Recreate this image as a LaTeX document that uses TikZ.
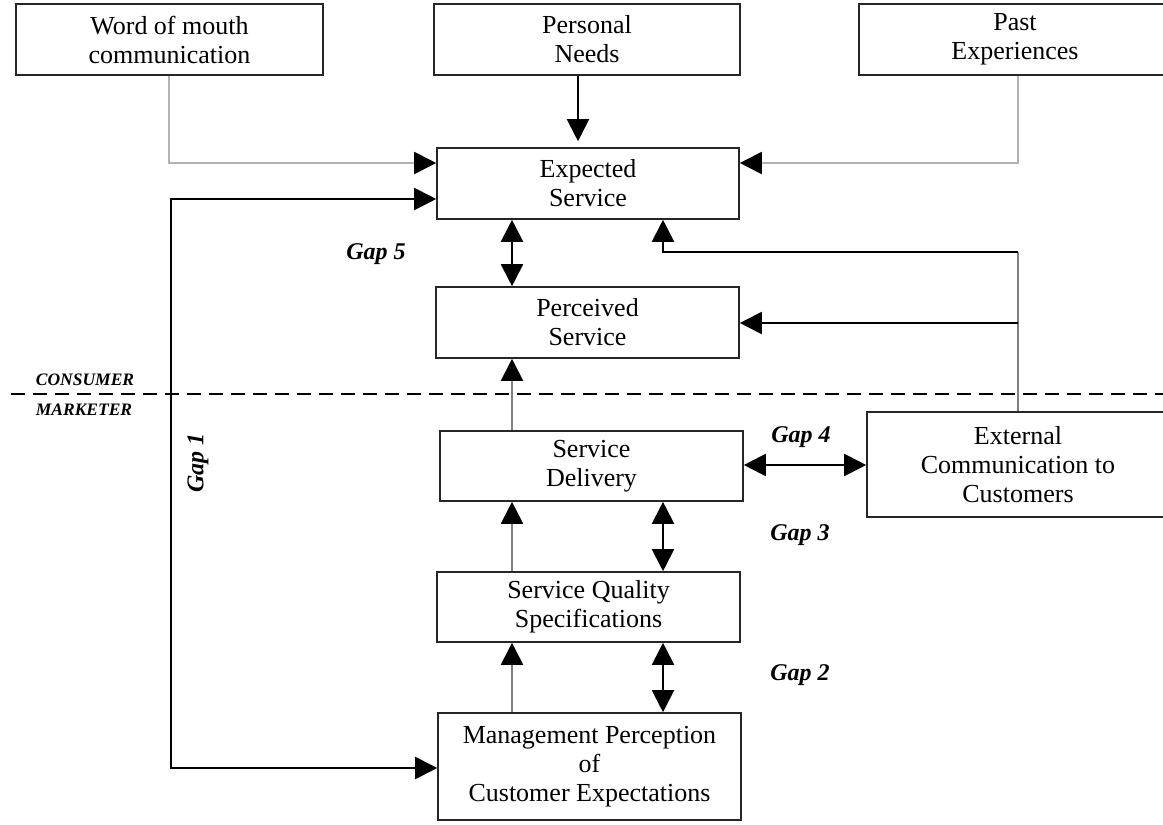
\documentclass[tikz,border=0pt]{standalone}
\usepackage{fontspec}
\setmainfont{Liberation Serif}
\usetikzlibrary{arrows.meta}
\tikzset{
  box/.style={draw=black!85, line width=1.6pt, fill=white, align=center, inner sep=0pt,
    font=\fontsize{26}{29}\selectfont},
  conn/.style={line width=2pt, draw=black},
  lgray/.style={line width=2pt, draw=black!30},
  mgray/.style={line width=2pt, draw=black!50},
  gaplbl/.style={font=\fontsize{24}{28}\selectfont\bfseries\itshape},
  sidelbl/.style={font=\fontsize{17.5}{20}\selectfont\bfseries\itshape},
  >={Triangle[length=22pt,width=22pt,color=black]}
}
\begin{document}
\begin{tikzpicture}[x=1pt,y=-1pt]
\clip (0,0) rectangle (1163,825);
\fill[white] (0,0) rectangle (1163,825);

% boxes
\node[box, minimum width=307pt, minimum height=71pt] (wom) at (169.5,39.5) {Word of mouth\\communication};
\node[box, minimum width=306pt, minimum height=71pt] (pn) at (587,39.5) {Personal\\Needs};
\node[box, minimum width=312pt, minimum height=71pt] (pe) at (1015,39.5) {Past\\Experiences};
\node[box, minimum width=302pt, minimum height=71pt] (es) at (588,183.5) {Expected\\Service};
\node[box, minimum width=303pt, minimum height=71pt] (ps) at (587.5,322.5) {Perceived\\Service};
\node[box, minimum width=303pt, minimum height=70pt] (sd) at (591.5,466) {Service\\Delivery};
\node[box, minimum width=302pt, minimum height=105pt] (ec) at (1018,464.5) {External\\Communication to\\Customers};
\node[box, minimum width=303pt, minimum height=70pt] (sqs) at (588.5,607) {Service Quality\\Specifications};
\node[box, minimum width=303pt, minimum height=107pt] (mp) at (589.5,766.5) {Management Perception\\of\\Customer Expectations};

% helper coordinates
\coordinate (xw) at (169,0);
\coordinate (yin) at (0,163);
\coordinate (xp) at (1018,0);
\coordinate (xn) at (578,0);
\coordinate (xl) at (512,0);
\coordinate (xr) at (663,0);
\coordinate (f1) at (171,199);
\coordinate (f2) at (171,768);
\coordinate (e1) at (1018,252);
\coordinate (e2) at (663,252);
\coordinate (e3) at (1018,323);
\coordinate (yg4) at (0,465);

% consumer / marketer line
\draw[line width=1.6pt, dash pattern=on 14pt off 8pt] (11,394) -- (1163,394);

% connectors
\draw[lgray,->] (wom.south -| xw) |- (es.west |- yin);
\draw[lgray,->] (pe.south -| xp) |- (es.east |- yin);
\draw[conn,->,shorten >=6pt] (pn.south -| xn) -- (es.north -| xn);
\draw[conn,<->] (es.west |- f1) -- (f1) -- (f2) -- (mp.west |- f2);
\draw[conn,<->] (es.south -| xl) -- (ps.north -| xl);
\draw[mgray] (ec.north -| e1) -- (e1);
\draw[conn,->] (e1) -- (e2) -- (es.south -| e2);
\draw[conn,->] (e3) -- (ps.east |- e3);
\draw[mgray,->] (sd.north -| xl) -- (ps.south -| xl);
\draw[mgray,->] (sqs.north -| xl) -- (sd.south -| xl);
\draw[conn,<->] (sd.south -| xr) -- (sqs.north -| xr);
\draw[mgray,->] (mp.north -| xl) -- (sqs.south -| xl);
\draw[conn,<->] (sqs.south -| xr) -- (mp.north -| xr);
\draw[conn,<->] (sd.east |- yg4) -- (ec.west |- yg4);

% labels
\node[gaplbl] (g5) at (376,254) {Gap 5};
\node[gaplbl] (g4) at (801,437) {Gap 4};
\node[gaplbl] (g3) at (800,535) {Gap 3};
\node[gaplbl] (g2) at (800,675) {Gap 2};
\node[gaplbl, rotate=90] (g1) at (198,463) {Gap 1};
\node[sidelbl] (cons) at (85,380) {CONSUMER};
\node[sidelbl] (mark) at (84,410) {MARKETER};
\end{tikzpicture}
\end{document}
